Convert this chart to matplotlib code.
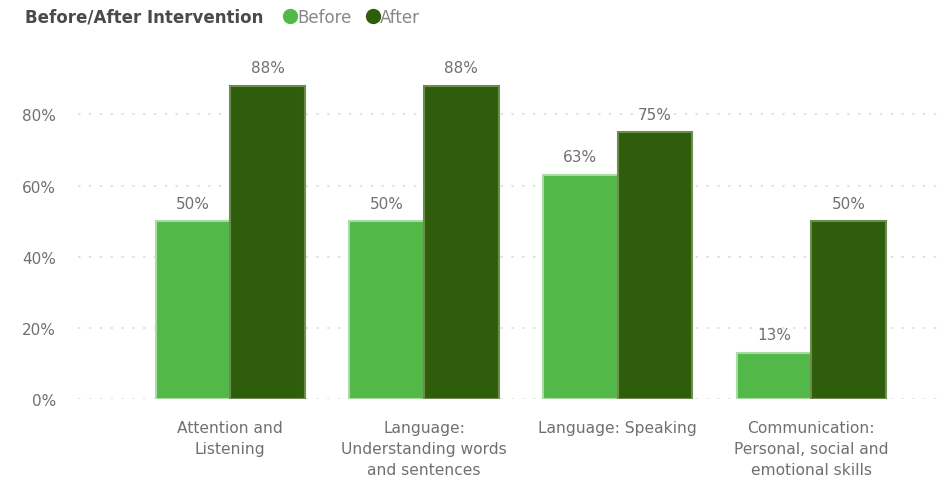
import numpy as np
import matplotlib
matplotlib.use("Agg")
import matplotlib.pyplot as plt
from matplotlib.lines import Line2D

plt.rcParams['font.family'] = ['DejaVu Sans']

categories = ["Attention and\nListening",
              "Language:\nUnderstanding words\nand sentences",
              "Language: Speaking",
              "Communication:\nPersonal, social and\nemotional skills"]
before = [50, 50, 63, 13]
after  = [88, 88, 75, 50]
yticks = [0, 20, 40, 60, 80]

c_before = "#52b848"
c_after  = "#2e5e0c"
txt      = "#707070"

fig = plt.figure(figsize=(9.45, 4.81), dpi=100)
ax = fig.add_axes([0.083, 0.168, 0.917, 0.74])

x = np.arange(len(categories))
w = 0.385
b1 = ax.bar(x - w/2, before, w, color=c_before, edgecolor="#a9dba2", linewidth=1.5, zorder=3)
b2 = ax.bar(x + w/2, after, w, color=c_after, edgecolor="#6e8c4e", linewidth=1.5, zorder=3)

for bars, vals in ((b1, before), (b2, after)):
    for r, v in zip(bars, vals):
        ax.text(r.get_x() + r.get_width()/2, v + 3.0, "%d%%" % v, ha="center", va="bottom",
                fontsize=11, color=txt)

ax.set_xlim(-0.784, 3.69)
ax.set_ylim(0, 100)
ax.set_yticks(yticks)
ax.set_yticklabels(["%d%%" % t for t in yticks], fontsize=11, color=txt)
ax.set_xticks(x)
ax.set_xticklabels(categories, fontsize=11.2, color=txt, linespacing=1.5)
ax.tick_params(length=0, pad=16)
ax.tick_params(axis="x", pad=15)
ax.grid(axis="y", color="#dddddd", linestyle=(0, (1.5, 5)), linewidth=1.2, zorder=0)
for s in ax.spines.values():
    s.set_visible(False)

fig.text(0.026, 0.963, "Before/After Intervention", fontsize=12, fontweight="bold",
         color="#4a4a4a", va="center")
handles = [Line2D([], [], marker="o", linestyle="", color=c_before, markersize=10),
           Line2D([], [], marker="o", linestyle="", color=c_after, markersize=10)]
fig.legend(handles, ["Before", "After"], loc="center left", bbox_to_anchor=(0.29, 0.963),
           ncol=2, frameon=False, fontsize=12, handletextpad=0.0, columnspacing=0.8,
           labelcolor="#888888", borderpad=0, handlelength=0.9)

fig.savefig("out.png", dpi=100)
